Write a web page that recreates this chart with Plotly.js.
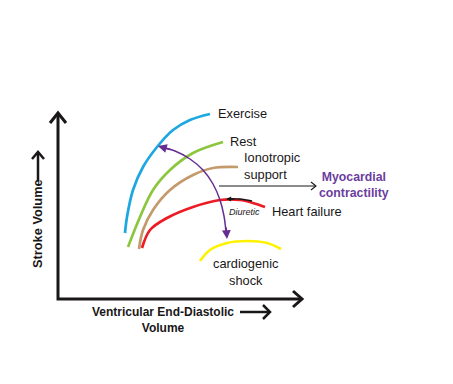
<!DOCTYPE html>
<html><head><meta charset="utf-8">
<script src="https://cdn.plot.ly/plotly-3.0.1.min.js"></script>
<style>html,body{margin:0;padding:0;background:#fff}#chart{width:453px;height:384px}</style>
</head><body><div id="chart"></div>
<script>
// Curve samples (diagram coordinates: x to the right, y downward)
const exerciseX = [125,127,133,143,157,173,190,210];
const exerciseY = [233,217,190,167,147,130,120,114];
const restX = [128,140,153,170,193,223];
const restY = [247,217,190,170,153,142];
const inotropicX = [139,143,153,170,193,213,238];
const inotropicY = [249,230,210,190,175,168,167];
const heartFailureX = [142,150,167,193,220,240,253,265];
const heartFailureY = [248,230,218,207,200,200,203,207];
const shockX = [200,210,227,247,267,281];
const shockY = [261,250,243,241,243,249];
const shiftX = [160,175,190,203,213,220,224,226];
const shiftY = [147,151,159,170,184,200,216,232];
const diureticX = [252,240,230];
const diureticY = [201,199,199];

const labels = ['Exercise','Rest','Ionotropic<br>support','Heart failure','cardiogenic<br>shock'];

const font = 'Liberation Sans, Arial, sans-serif';
const ink = '#1a1718';

function line(x, y, color, width, shape) {
  return {x: x, y: y, mode: 'lines', type: 'scatter', hoverinfo: 'skip',
    line: {color: color, width: width, shape: shape || 'spline', smoothing: 1}};
}

const traces = [
  line(exerciseX, exerciseY, '#1ca7e0', 2.7),
  line(restX, restY, '#8cc63e', 2.7),
  line(inotropicX, inotropicY, '#c49a6c', 2.7),
  line(heartFailureX, heartFailureY, '#ed1c24', 2.7),
  line(shockX, shockY, '#fff200', 2.7),
  line(shiftX, shiftY, '#662d91', 1.5),
  line(diureticX, diureticY, ink, 1.3),
  // axes
  line([58,58,302], [114,299,299], ink, 3, 'linear'),
  line([50,58,66], [123,113,123], ink, 3, 'linear'),
  line([293,302,293], [291,299,307], ink, 3, 'linear'),
  // stroke volume arrow
  line([38,38], [181,153], ink, 2.5, 'linear'),
  line([32,38,44], [159,152,159], ink, 2.5, 'linear'),
  // EDV arrow
  line([240,270], [312,312], ink, 2.5, 'linear'),
  line([263,270,263], [305,312,319], ink, 2.5, 'linear'),
  // contractility arrow
  line([219,316], [186,186], ink, 1.1, 'linear'),
  line([311,316,311], [182,186,190], ink, 1.1, 'linear')
];

function txt(x, y, text, opts) {
  return Object.assign({x: x, y: y, text: text, showarrow: false, xref: 'x', yref: 'y',
    xanchor: 'left', yanchor: 'middle', font: {family: font, size: 12.8, color: ink}}, opts || {});
}

const annotations = [
  txt(216, 113, labels[0]),
  txt(228, 141, labels[1]),
  txt(242, 166, labels[2], {align: 'left'}),
  txt(270, 211, labels[3]),
  txt(246, 272, labels[4], {xanchor: 'center', align: 'center'}),
  txt(354, 185, '<b>Myocardial</b><br><b>contractility</b>', {xanchor: 'center', align: 'center',
    font: {family: font, size: 12.3, color: '#6b3d9e'}}),
  txt(227, 212, 'Diuretic', {font: {family: font, size: 9, color: ink, style: 'italic'}}),
  txt(37, 224, '<b>Stroke Volume</b>', {xanchor: 'center', textangle: -90}),
  txt(163, 320, '<b>Ventricular End-Diastolic</b><br><b>Volume</b>', {xanchor: 'center', align: 'center',
    font: {family: font, size: 12, color: ink}}),
  // arrowheads
  {x: 158, y: 146, ax: 172, ay: 150, axref: 'x', ayref: 'y', xref: 'x', yref: 'y', text: '',
    showarrow: true, arrowhead: 2, arrowsize: 1.1, arrowwidth: 1.6, arrowcolor: '#662d91'},
  {x: 227, y: 239, ax: 226, ay: 226, axref: 'x', ayref: 'y', xref: 'x', yref: 'y', text: '',
    showarrow: true, arrowhead: 2, arrowsize: 1.1, arrowwidth: 1.6, arrowcolor: '#662d91'},
  {x: 226, y: 199, ax: 236, ay: 199, axref: 'x', ayref: 'y', xref: 'x', yref: 'y', text: '',
    showarrow: true, arrowhead: 2, arrowsize: 0.8, arrowwidth: 1.3, arrowcolor: ink}
];

const layout = {
  width: 453, height: 384, margin: {l: 0, r: 0, t: 0, b: 0},
  paper_bgcolor: '#fff', plot_bgcolor: '#fff', showlegend: false,
  xaxis: {range: [0, 453], visible: false, fixedrange: true},
  yaxis: {range: [384, 0], visible: false, fixedrange: true},
  annotations: annotations
};
Plotly.newPlot('chart', traces, layout, {staticPlot: true, displayModeBar: false});
</script></body></html>
